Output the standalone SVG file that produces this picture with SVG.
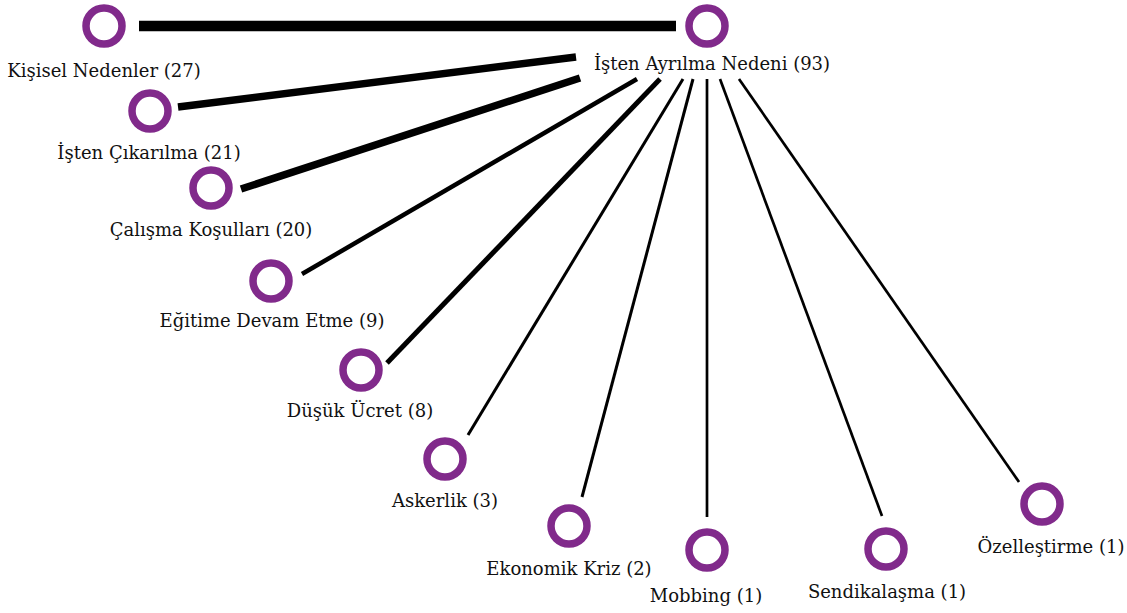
<svg xmlns="http://www.w3.org/2000/svg" width="1127" height="613" viewBox="0 0 1127 613">
<style>
.node circle{fill:#fff;stroke:#812a8b;stroke-width:7.5}
.node text{font-family:"DejaVu Serif","Liberation Serif",serif;font-size:18px;fill:#111;text-anchor:middle}
#edges line{stroke:#000;stroke-linecap:butt}
</style>
<rect width="1127" height="613" fill="#fff"/>
<g id="edges">
<line x1="139" y1="26" x2="676" y2="26" stroke-width="10.5"/>
<line x1="178" y1="107" x2="576" y2="57" stroke-width="7.5"/>
<line x1="241" y1="189" x2="580" y2="78" stroke-width="7.5"/>
<line x1="302" y1="274" x2="637" y2="79" stroke-width="4.5"/>
<line x1="387" y1="363" x2="660" y2="79" stroke-width="5"/>
<line x1="468" y1="435" x2="683" y2="79" stroke-width="3"/>
<line x1="582" y1="497" x2="693" y2="79" stroke-width="3"/>
<line x1="707" y1="517" x2="707" y2="79" stroke-width="2.7"/>
<line x1="882" y1="516" x2="720" y2="79" stroke-width="2.7"/>
<line x1="1019" y1="482" x2="739" y2="79" stroke-width="2.7"/>
</g>
<g id="n-center" class="node"><circle cx="707" cy="26" r="18"/><text x="712" y="70">İşten Ayrılma Nedeni (93)</text></g>
<g id="n-kisisel" class="node"><circle cx="104" cy="26" r="18"/><text x="104" y="77">Kişisel Nedenler (27)</text></g>
<g id="n-cikarilma" class="node"><circle cx="150" cy="111" r="18"/><text x="149" y="159">İşten Çıkarılma (21)</text></g>
<g id="n-calisma" class="node"><circle cx="211" cy="188" r="18"/><text x="211" y="236">Çalışma Koşulları (20)</text></g>
<g id="n-egitime" class="node"><circle cx="271" cy="281" r="18"/><text x="272" y="327">Eğitime Devam Etme (9)</text></g>
<g id="n-dusuk" class="node"><circle cx="361" cy="370" r="18"/><text x="360" y="417">Düşük Ücret (8)</text></g>
<g id="n-askerlik" class="node"><circle cx="445" cy="459" r="18"/><text x="445" y="507">Askerlik (3)</text></g>
<g id="n-ekonomik" class="node"><circle cx="569" cy="526" r="18"/><text x="569" y="575">Ekonomik Kriz (2)</text></g>
<g id="n-mobbing" class="node"><circle cx="707" cy="550" r="18"/><text x="706" y="602">Mobbing (1)</text></g>
<g id="n-sendika" class="node"><circle cx="886" cy="549" r="18"/><text x="887" y="598">Sendikalaşma (1)</text></g>
<g id="n-ozel" class="node"><circle cx="1042" cy="504" r="18"/><text x="1051" y="553">Özelleştirme (1)</text></g>
</svg>
